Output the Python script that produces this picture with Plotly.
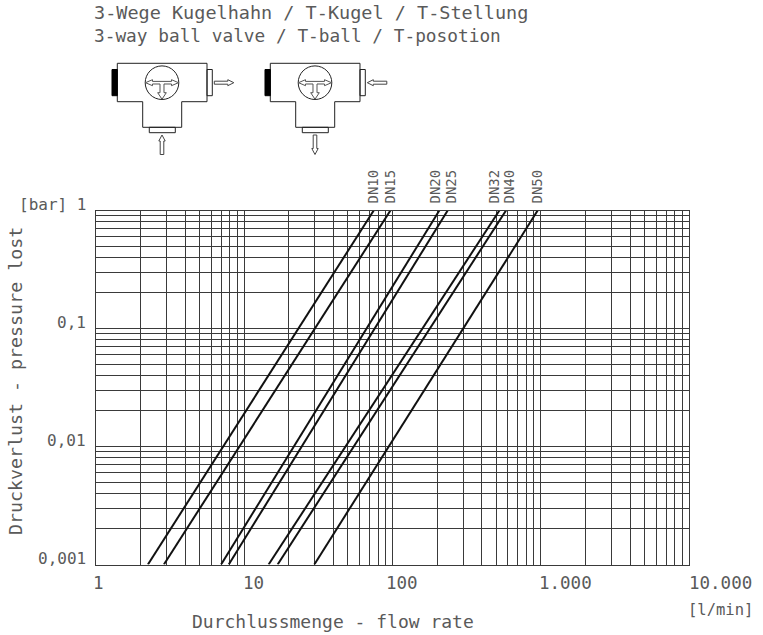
import math
import plotly.graph_objects as go

W, H = 763, 635
# Chart data
dn_labels = ["DN10", "DN15", "DN20", "DN25", "DN32", "DN40", "DN50"]
flow_at_low = [2.24, 2.87, 6.98, 7.86, 14.6, 16.8, 29.7]
flow_at_high = [74.7, 96.8, 207, 235.6, 526, 583, 953]
pressure_ends = [0.001, 1]
x_tick_vals = [1, 10, 100, 1000, 10000]
x_tick_text = ["1", "10", "100", "1.000", "10.000"]
x_tick_shift = [3, 9, 9, 25, 31]
y_tick_vals = [1, 0.1, 0.01, 0.001]
y_tick_text = ["[bar] 1", "0,1", "0,01", "0,001"]
dn_label_px = [373, 390, 435, 451, 494, 509, 537]

FONT = "DejaVu Sans Mono"
INK = "#111111"
TXT = "#5a5a5a"
GRID = "#3a3a3a"
L, R, T, B = 96, 689, 210.5, 564.5

fig = go.Figure()
for name, a, b in zip(dn_labels, flow_at_low, flow_at_high):
    fig.add_trace(go.Scatter(x=[a, b], y=pressure_ends, mode="lines", name=name,
                             line=dict(color=INK, width=2), showlegend=False, hoverinfo="name"))

def px(x): return x / W
def py(y): return 1 - y / H

shapes = []
def poly(points, fill="rgba(0,0,0,0)", color="#222222", width=1):
    path = "M" + " L".join(f"{px(x):.5f},{py(y):.5f}" for x, y in points) + " Z"
    shapes.append(dict(type="path", xref="paper", yref="paper", path=path,
                       line=dict(color=color, width=width), fillcolor=fill, layer="above"))

def valve(dx, arrow_right_out, arrow_bottom_up):
    x0 = 117.3 + dx
    poly([(x0, 63.3), (x0+89.7, 63.3), (x0+89.7, 101.7), (x0+64.4, 101.7), (x0+64.4, 127.3),
          (x0+25.4, 127.3), (x0+25.4, 101.7), (x0, 101.7)])
    poly([(x0-5.3, 69.5), (x0, 69.5), (x0, 95.7), (x0-5.3, 95.7)], fill="#000000", color="#000000")
    poly([(x0+89.7, 69.5), (x0+95, 69.5), (x0+95, 95.7), (x0+89.7, 95.7)])
    poly([(x0+32, 127.3), (x0+58, 127.3), (x0+58, 132.7), (x0+32, 132.7)])
    cx, cy = x0 + 44.7, 82.7
    shapes.append(dict(type="circle", xref="paper", yref="paper", x0=px(cx-16.8), x1=px(cx+16.8),
                       y0=py(cy+16.8), y1=py(cy-16.8), line=dict(color="#222222", width=1), layer="above"))
    # T-shaped double arrow inside the ball
    tee = [(-16.5, 0), (-9.5, -3), (-9.5, -1.3), (9.5, -1.3), (9.5, -3), (16.5, 0), (9.5, 3), (9.5, 1.3),
           (2, 1.3), (2, 10), (4.3, 10), (0, 16.5), (-4.3, 10), (-2, 10), (-2, 1.3), (-9.5, 1.3), (-9.5, 3)]
    poly([(cx+a, cy+b) for a, b in tee], color="#555555")
    # side arrow
    if arrow_right_out:
        s = [(0, -1.5), (13.5, -1.5), (13.5, -3), (19.5, 0), (13.5, 3), (13.5, 1.5), (0, 1.5)]
    else:
        s = [(19.5, -1.5), (6, -1.5), (6, -3), (0, 0), (6, 3), (6, 1.5), (19.5, 1.5)]
    sx = x0 + 97
    poly([(sx+a, cy+b) for a, b in s], color="#444444")
    # bottom arrow
    by = 135
    if arrow_bottom_up:
        s = [(-1.8, 19.5), (-1.8, 6), (-3.2, 6), (0, 0), (3.2, 6), (1.8, 6), (1.8, 19.5)]
    else:
        s = [(-1.8, 0), (-1.8, 13.5), (-3.2, 13.5), (0, 19.5), (3.2, 13.5), (1.8, 13.5), (1.8, 0)]
    poly([(cx+a, by+b) for a, b in s], color="#444444")

valve(0, True, True)
valve(153, False, False)

ann = []
def text(x, y, s, size=17, anchor="left", yanchor="middle", angle=0, xref="paper", yref="paper"):
    ann.append(dict(x=x, y=y, text=s, xref=xref, yref=yref, xanchor=anchor, yanchor=yanchor,
                    textangle=angle, showarrow=False,
                    font=dict(family=FONT, size=size, color=TXT), borderpad=0, borderwidth=0))

text(px(94), py(12), "3-Wege Kugelhahn / T-Kugel / T-Stellung", size=18.5)
text(px(94), py(35), "3-way ball valve / T-ball / T-posotion", size=17.8)

for s, xp in zip(dn_labels, dn_label_px):
    text(px(xp), py(203.5), s, size=14, anchor="center", yanchor="bottom", angle=-90)

for v, s, sh in zip(x_tick_vals, x_tick_text, x_tick_shift):
    ann.append(dict(x=math.log10(v), y=py(583), xref="x", yref="paper", text=s, showarrow=False,
                    xanchor="center", yanchor="middle", xshift=sh,
                    font=dict(family=FONT, size=17.5, color=TXT)))
for v, s in zip(y_tick_vals, y_tick_text):
    ann.append(dict(x=px(88), y=math.log10(v), xref="paper", yref="y", text=s, showarrow=False,
                    xanchor="right", yanchor="middle", yshift=6,
                    font=dict(family=FONT, size=16, color=TXT)))

text(px(332.5), py(621), "Durchlussmenge - flow rate", size=18, anchor="center")
text(px(720), py(610), "[l/min]", size=15.5, anchor="center")
text(px(15), py(381), "Druckverlust - pressure lost", size=18.3, anchor="center", angle=-90)

axis_common = dict(type="log", showline=True, linecolor=GRID, linewidth=1, mirror=True, ticks="",
                   showticklabels=False, showgrid=True, gridcolor=GRID, gridwidth=1, zeroline=False,
                   dtick=1,
                   minor=dict(showgrid=True, gridcolor=GRID, gridwidth=1, dtick="D1", ticks=""))
fig.update_layout(
    width=W, height=H, margin=dict(l=0, r=0, t=0, b=0),
    paper_bgcolor="white", plot_bgcolor="white", showlegend=False,
    xaxis=dict(domain=[L / W, R / W], range=[0, 4], **axis_common),
    yaxis=dict(domain=[1 - B / H, 1 - T / H], range=[-3, 0], **axis_common),
    shapes=shapes, annotations=ann,
)
fig.write_html("out.html", config=dict(displayModeBar=False),
               post_script="document.body.style.margin='0';")
